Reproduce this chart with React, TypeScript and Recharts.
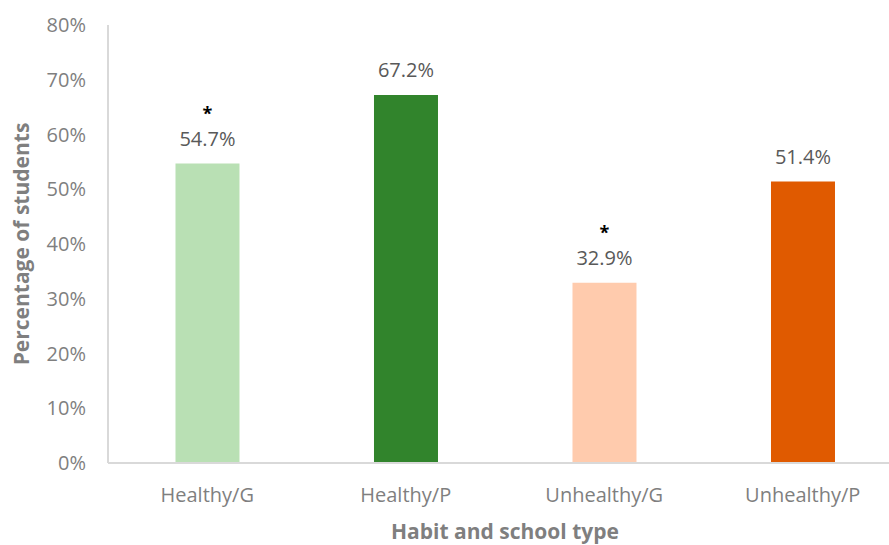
import { BarChart, Bar, XAxis, YAxis, Cell, LabelList, Label } from "recharts";

const categories = ["Healthy/G", "Healthy/P", "Unhealthy/G", "Unhealthy/P"];
const percentages = [54.7, 67.2, 32.9, 51.4];
const significant = [true, false, true, false];
const barColors = ["#b9e0b4", "#31842c", "#ffcbad", "#e05a00"];
const yTicks = [0, 10, 20, 30, 40, 50, 60, 70, 80];

const data = categories.map((name, i) => ({
  name,
  value: percentages[i],
  star: significant[i],
}));

const FONT = "'Open Sans', sans-serif";

// value label above each bar, with an asterisk on top where the difference is significant
function ValueLabel(props: any) {
  const { x, y, width, index, value } = props;
  const cx = x + width / 2;
  return (
    <g>
      {significant[index] && (
        <text
          x={cx}
          y={y - 44}
          textAnchor="middle"
          fontFamily={FONT}
          fontSize={18}
          fontWeight={700}
          fill="#000000"
        >
          *
        </text>
      )}
      <text
        x={cx}
        y={y - 18}
        textAnchor="middle"
        fontFamily={FONT}
        fontSize={20}
        fill="#595959"
      >
        {`${Number(value).toFixed(1)}%`}
      </text>
    </g>
  );
}

export default function App() {
  return (
    <div
      style={{
        position: "absolute",
        left: 0,
        top: 0,
        width: 889,
        height: 545,
        overflow: "hidden",
        background: "#ffffff",
      }}
    >
      <BarChart
        width={902}
        height={545}
        data={data}
        margin={{ top: 25, right: 0, bottom: 0, left: 0 }}
        barCategoryGap="34%"
      >
        <XAxis
          dataKey="name"
          height={82}
          tickLine={false}
          axisLine={{ stroke: "#d9d9d9", strokeWidth: 2 }}
          tickMargin={19}
          tick={{ fontFamily: FONT, fontSize: 20, fill: "#7f7f7f" }}
        >
          <Label
            value="Habit and school type"
            position="insideBottom"
            offset={6}
            style={{
              fontFamily: FONT,
              fontSize: 21,
              fontWeight: 700,
              fill: "#7f7f7f",
            }}
          />
        </XAxis>
        <YAxis
          width={108}
          domain={[0, 80]}
          ticks={yTicks}
          interval={0}
          tickLine={false}
          axisLine={{ stroke: "#d9d9d9", strokeWidth: 2 }}
          tickMargin={16}
          tickFormatter={(v) => `${v}%`}
          tick={{ fontFamily: FONT, fontSize: 20, fill: "#7f7f7f" }}
        >
          <Label
            content={(p: any) => {
              const vb = p.viewBox;
              const cy = vb.y + vb.height / 2;
              return (
                <text
                  x={29}
                  y={cy}
                  transform={`rotate(-90, 29, ${cy})`}
                  textAnchor="middle"
                  fontFamily={FONT}
                  fontSize={21}
                  fontWeight={700}
                  fill="#7f7f7f"
                >
                  Percentage of students
                </text>
              );
            }}
          />
        </YAxis>
        <Bar dataKey="value" isAnimationActive={false}>
          {data.map((d, i) => (
            <Cell key={d.name} fill={barColors[i]} />
          ))}
          <LabelList dataKey="value" content={ValueLabel} />
        </Bar>
      </BarChart>
    </div>
  );
}
